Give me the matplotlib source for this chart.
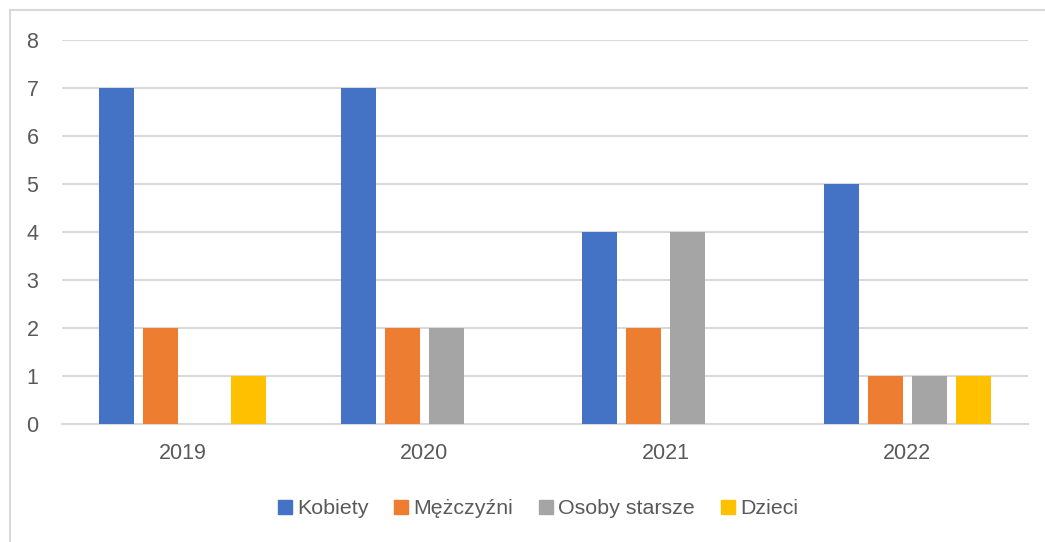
import numpy as np
import matplotlib.pyplot as plt
from matplotlib.patches import Patch
from matplotlib.lines import Line2D

years = ['2019', '2020', '2021', '2022']
kobiety = [7, 7, 4, 5]
mezczyzni = [2, 2, 2, 1]
osoby_starsze = [0, 2, 4, 1]
dzieci = [1, 0, 0, 1]

series = [kobiety, mezczyzni, osoby_starsze, dzieci]
names = ['Kobiety', 'Mężczyźni', 'Osoby starsze', 'Dzieci']
colors = ['#4472C4', '#ED7D31', '#A5A5A5', '#FFC000']

plt.rcParams['font.family'] = ['Liberation Sans', 'DejaVu Sans']

W, H = 1045, 542
fig = plt.figure(figsize=(W / 100, H / 100), dpi=100)
ax = fig.add_axes([62 / W, 1 - 424 / H, (1028 - 62) / W, (424 - 40) / H])

x = np.arange(len(years))
step = 0.182
width = 0.1437
for i, (vals, name, c) in enumerate(zip(series, names, colors)):
    ax.bar(x + (i - 1.5) * step, vals, width, color=c, label=name, zorder=3)

ax.set_xlim(-0.5, len(years) - 0.5)
ax.set_ylim(0, 8)
ax.set_yticks(range(0, 9))
ax.set_xticks(x)
ax.set_xticklabels(years)
ax.grid(axis='y', color='#D9D9D9', lw=1.5, zorder=0)
ax.set_axisbelow(True)
for s in ['top', 'right', 'left']:
    ax.spines[s].set_visible(False)
ax.spines['bottom'].set_color('#D9D9D9')
ax.spines['bottom'].set_linewidth(1.5)
ax.tick_params(axis='both', length=0, colors='#595959', labelsize=15.5)
ax.tick_params(axis='y', pad=17)
ax.tick_params(axis='x', pad=14)

handles = [Patch(color=c) for c in colors]
fig.legend(handles, names, loc='center', bbox_to_anchor=(538 / W, 1 - 509 / H),
           ncol=4, frameon=False, fontsize=15.4, labelcolor='#595959',
           handlelength=0.65, handleheight=0.65, handletextpad=0.25,
           columnspacing=1.2)

# chart border (left and top visible)
fig.add_artist(Line2D([9.5 / W, 9.5 / W], [0, 1 - 10 / H], color='#D9D9D9', lw=1.5))
fig.add_artist(Line2D([9.5 / W, 1], [1 - 10 / H, 1 - 10 / H], color='#D9D9D9', lw=1.5))

fig.savefig('out.png', dpi=100)
